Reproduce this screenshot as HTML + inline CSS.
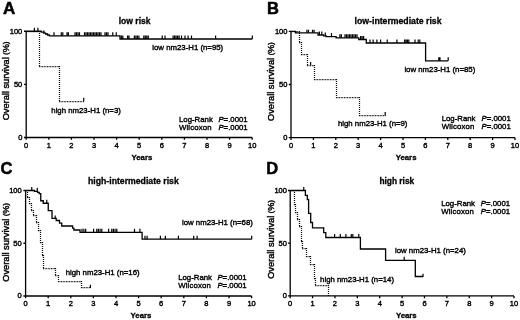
<!DOCTYPE html>
<html><head><meta charset="utf-8"><title>Overall survival by nm23-H1 expression</title>
<style>
html,body{margin:0;padding:0;background:#fff;}
body{width:520px;height:320px;overflow:hidden;}
svg{display:block;}
text{font-family:"Liberation Sans", sans-serif;fill:#000;stroke:#000;stroke-width:0.3;}
.ax{fill:none;stroke:#000;stroke-width:1.3;}
.so{fill:none;stroke:#000;stroke-width:1.3;}
.do{fill:none;stroke:#0a0a0a;stroke-width:1.25;stroke-dasharray:1 1;}
.dh{fill:none;stroke:#0a0a0a;stroke-width:1.25;stroke-dasharray:0.9 0.7;}
.tk{fill:none;stroke:#000;stroke-width:1.2;}
.tl{font-size:7.5px;stroke-width:0.4;}
.pl{font-size:16.5px;font-weight:bold;stroke-width:0.5;}
.ti{font-size:8.7px;font-weight:bold;stroke-width:0.3;}
.yr{font-size:7.8px;font-weight:bold;stroke-width:0.3;}
.os{font-size:8.4px;stroke-width:0.4;}
.pa{font-size:6.6px;}
.lb{font-size:7.8px;stroke-width:0.38;}
.lw{letter-spacing:0.13px;}
.it{font-style:italic;}
</style></head><body>
<svg width="520" height="320" viewBox="0 0 520 320">
<rect width="520" height="320" fill="#fff"/>
<g style="filter:blur(0.22px)">
<!-- Panel A -->
<path d="M26.2,30.75V137.5H252.2M24,137.5H26.2M24,84.38H26.2M24,31.25H26.2M26.2,137.5v2.3M48.8,137.5v2.3M71.4,137.5v2.3M94,137.5v2.3M116.6,137.5v2.3M139.2,137.5v2.3M161.8,137.5v2.3M184.4,137.5v2.3M207,137.5v2.3M229.6,137.5v2.3M252.2,137.5v2.3" class="ax"/><text x="22.3" y="140.3" class="tl" text-anchor="end">0</text><text x="22.3" y="87.17" class="tl" text-anchor="end">50</text><text x="22.3" y="34.05" class="tl" text-anchor="end">100</text><text x="26.2" y="148.2" class="tl" text-anchor="middle">0</text><text x="48.8" y="148.2" class="tl" text-anchor="middle">1</text><text x="71.4" y="148.2" class="tl" text-anchor="middle">2</text><text x="94" y="148.2" class="tl" text-anchor="middle">3</text><text x="116.6" y="148.2" class="tl" text-anchor="middle">4</text><text x="139.2" y="148.2" class="tl" text-anchor="middle">5</text><text x="161.8" y="148.2" class="tl" text-anchor="middle">6</text><text x="184.4" y="148.2" class="tl" text-anchor="middle">7</text><text x="207" y="148.2" class="tl" text-anchor="middle">8</text><text x="229.6" y="148.2" class="tl" text-anchor="middle">9</text><text x="252.2" y="148.2" class="tl" text-anchor="middle">10</text>
<text x="3" y="13.7" class="pl" style="font-size:17px">A</text>
<text x="118.7" y="23.8" class="ti" style="font-size:8.55px">low risk</text>
<text x="141.9" y="160" class="yr" text-anchor="middle">Years</text>
<text transform="translate(8.7,81) rotate(-90) scale(1.1,1)" class="os" text-anchor="middle">Overall survival <tspan class="pa" dy="-0.7">(</tspan><tspan dy="0.7">%</tspan><tspan class="pa" dy="-0.7">)</tspan></text>
<path d="M26.2,31.25H41.25V32.1H43.75V33.1H45.6V34H47.5V35H49.4V35.8H120V39H252.3" class="so"/>
<path d="M34.4,31.25v-3.5M37.9,31.25v-3.5M43.9,33.1v-2.6" class="tk"/>
<path d="M54,35.8v-3.5M61.3,35.8v-3.5M62.8,35.8v-3.5M67,35.8v-3.5M68.4,35.8v-3.5M75,35.8v-3.5M76.5,35.8v-3.5M78,35.8v-3.5M79.5,35.8v-3.5M84.5,35.8v-3.5M86,35.8v-3.5M87.5,35.8v-3.5M89,35.8v-3.5M90.5,35.8v-3.5M92,35.8v-3.5M93.5,35.8v-3.5M95,35.8v-3.5M96.5,35.8v-3.5M98,35.8v-3.5M99.5,35.8v-3.5M101,35.8v-3.5M105,35.8v-3.5M106.5,35.8v-3.5M108,35.8v-3.5M112.75,35.8v-3.5M116.25,35.8v-3.5" class="tk"/>
<path d="M121.4,39v-3.5M122.8,39v-3.5M127.6,39v-3.5M129,39v-3.5M134.4,39v-3.5M135.9,39v-3.5M137.4,39v-3.5M138.9,39v-3.5M143.8,39v-3.5M145.3,39v-3.5M146.8,39v-3.5M148.3,39v-3.5M162.25,39v-3.5M165,39v-3.5M173.1,39v-3.5M174.6,39v-3.5M176.1,39v-3.5M177.6,39v-3.5M179.1,39v-3.5M181.5,39v-3.5M185,39v-3.5M188.1,39v-3.5M191.5,39v-3.5M215.6,39v-3.5M252.3,39v-3.5" class="tk"/>
<path d="M39.5,31V67M59.5,66V102" class="do"/><path d="M26,31.5H40M39,66.5H60M59,101.5H84" class="dh"/>
<path d="M83.75,101.3v-3.5" class="tk"/>
<text x="152.3" y="50" class="lb">low nm23-H1 (n=95)</text>
<text x="51.3" y="112.8" class="lb">high nm23-H1 (n=3)</text>
<text x="179" y="121.5" class="lb">Log-Rank</text><text x="218.4" y="121.5" class="lb"><tspan class="it">P</tspan>=.0001</text>
<text x="179" y="129.6" class="lb lw">Wilcoxon</text><text x="218.4" y="129.6" class="lb"><tspan class="it">P</tspan>=.0001</text>
<!-- Panel B -->
<path d="M291,30.9V137.6H515M288.8,137.6H291M288.8,84.5H291M288.8,31.4H291M291,137.6v2.3M313.4,137.6v2.3M335.8,137.6v2.3M358.2,137.6v2.3M380.6,137.6v2.3M403,137.6v2.3M425.4,137.6v2.3M447.8,137.6v2.3M470.2,137.6v2.3M492.6,137.6v2.3M515,137.6v2.3" class="ax"/><text x="287.4" y="140.4" class="tl" text-anchor="end">0</text><text x="287.4" y="87.3" class="tl" text-anchor="end">50</text><text x="287.4" y="34.2" class="tl" text-anchor="end">100</text><text x="291" y="148.3" class="tl" text-anchor="middle">0</text><text x="313.4" y="148.3" class="tl" text-anchor="middle">1</text><text x="335.8" y="148.3" class="tl" text-anchor="middle">2</text><text x="358.2" y="148.3" class="tl" text-anchor="middle">3</text><text x="380.6" y="148.3" class="tl" text-anchor="middle">4</text><text x="403" y="148.3" class="tl" text-anchor="middle">5</text><text x="425.4" y="148.3" class="tl" text-anchor="middle">6</text><text x="447.8" y="148.3" class="tl" text-anchor="middle">7</text><text x="470.2" y="148.3" class="tl" text-anchor="middle">8</text><text x="492.6" y="148.3" class="tl" text-anchor="middle">9</text><text x="515" y="148.3" class="tl" text-anchor="middle">10</text>
<text x="267" y="13.7" class="pl">B</text>
<text x="354.6" y="23.9" class="ti">low-intermediate risk</text>
<text x="406.1" y="160.3" class="yr" text-anchor="middle">Years</text>
<text transform="translate(274,81.6) rotate(-90) scale(1.1,1)" class="os" text-anchor="middle">Overall survival <tspan class="pa" dy="-0.7">(</tspan><tspan dy="0.7">%</tspan><tspan class="pa" dy="-0.7">)</tspan></text>
<path d="M291,31.4H295.5V32.8H318V35H323.6V35.9H326.1V36.6H336.1V37.8H358.75V39.5H366.25V43H425.6V60.8H448.2" class="so"/>
<path d="M306.9,32.8v-3M308.5,32.8v-3M312.5,32.8v-3M314.1,32.8v-3" class="tk"/>
<path d="M319.4,35v-3.5M321.8,35v-3.5" class="tk"/>
<path d="M325.3,35.9v-3.5" class="tk"/>
<path d="M331.5,36.6v-3.5" class="tk"/>
<path d="M339.9,37.8v-3.5M341.4,37.8v-3.5M345,37.8v-3.5M346.5,37.8v-3.5M348,37.8v-3.5M349.5,37.8v-3.5M351,37.8v-3.5M352.5,37.8v-3.5M354,37.8v-3.5M355.5,37.8v-3.5M357,37.8v-3.5" class="tk"/>
<path d="M360.6,39.5v-3.5M362.1,39.5v-3.5M363.6,39.5v-3.5" class="tk"/>
<path d="M370,43v-3.5M373.1,43v-3.5M376.9,43v-3.5M380.6,43v-3.5M387.25,43v-3.5M396.9,43v-3.5M404.6,43v-3.5M406,43v-3.5M407.4,43v-3.5M408.8,43v-3.5M415,43v-3.5M418.2,43v-3.5M419.8,43v-3.5" class="tk"/>
<path d="M438.8,60.8v-3.5M440,60.8v-3.5M448.2,60.8v-3.5" class="tk"/>
<path d="M299.5,31V43M301.5,42V55M307.5,54V66M314.5,65V80M336.5,79V98M359.5,97V116" class="do"/><path d="M291,31.5H300M299,42.5H302M301,54.5H308M307,65.5H315M314,79.5H337M336,97.5H360M359,115.5H386" class="dh"/>
<path d="M310.6,65v-3" class="tk"/>
<path d="M385.2,115.6v-3.5" class="tk"/>
<text x="404.4" y="71.8" class="lb">low nm23-H1 (n=85)</text>
<text x="337.9" y="126.2" class="lb">high nm23-H1 (n=9)</text>
<text x="441.7" y="121.4" class="lb">Log-Rank</text><text x="481.5" y="121.4" class="lb"><tspan class="it">P</tspan>=.0001</text>
<text x="441.7" y="129.3" class="lb lw">Wilcoxon</text><text x="481.5" y="129.3" class="lb"><tspan class="it">P</tspan>=.0001</text>
<!-- Panel C -->
<path d="M25.6,190V296H251.6M23.4,296H25.6M23.4,243.25H25.6M23.4,190.5H25.6M25.6,296v2.3M48.2,296v2.3M70.8,296v2.3M93.4,296v2.3M116,296v2.3M138.6,296v2.3M161.2,296v2.3M183.8,296v2.3M206.4,296v2.3M229,296v2.3M251.6,296v2.3" class="ax"/><text x="21.7" y="298.3" class="tl" text-anchor="end">0</text><text x="21.7" y="245.55" class="tl" text-anchor="end">50</text><text x="21.7" y="192.8" class="tl" text-anchor="end">100</text><text x="25.6" y="306.4" class="tl" text-anchor="middle">0</text><text x="48.2" y="306.4" class="tl" text-anchor="middle">1</text><text x="70.8" y="306.4" class="tl" text-anchor="middle">2</text><text x="93.4" y="306.4" class="tl" text-anchor="middle">3</text><text x="116" y="306.4" class="tl" text-anchor="middle">4</text><text x="138.6" y="306.4" class="tl" text-anchor="middle">5</text><text x="161.2" y="306.4" class="tl" text-anchor="middle">6</text><text x="183.8" y="306.4" class="tl" text-anchor="middle">7</text><text x="206.4" y="306.4" class="tl" text-anchor="middle">8</text><text x="229" y="306.4" class="tl" text-anchor="middle">9</text><text x="251.6" y="306.4" class="tl" text-anchor="middle">10</text>
<text x="0.6" y="173.9" class="pl">C</text>
<text x="88" y="183.6" class="ti">high-intermediate risk</text>
<text x="141" y="317.7" class="yr" text-anchor="middle">Years</text>
<text transform="translate(8.7,242.4) rotate(-90) scale(1.1,1)" class="os" text-anchor="middle">Overall survival <tspan class="pa" dy="-0.7">(</tspan><tspan dy="0.7">%</tspan><tspan class="pa" dy="-0.7">)</tspan></text>
<path d="M25.6,190.5H34.5V191.3H37.6V192.4H39.2V193.7H40.75V200.75H43.25V203.25H48.25V210.6H52V218.4H56.2V220.5H59.5V223.1H61.75V226H72.6V228.1H73.9V230H80V232.3H142.1V239.2H251.7" class="so"/>
<path d="M31.75,190.5v-3.5M37.25,191.3v-3.5M46.75,203.25v-3.5M55.2,218.4v-3" class="tk"/>
<path d="M82,232.3v-3.5M83.9,232.3v-3.5M85.7,232.3v-3.5M93.6,232.3v-3.5M96.75,232.3v-3.5M98.4,232.3v-3.5M100.1,232.3v-3.5M101.8,232.3v-3.5M108.6,232.3v-3.5M111.75,232.3v-3.5M113.4,232.3v-3.5M115.1,232.3v-3.5M116.8,232.3v-3.5M134.5,232.3v-3.5M139.9,232.3v-3.5" class="tk"/>
<path d="M145,239.2v-3.5M147.1,239.2v-3.5M160.4,239.2v-3.5M165.4,239.2v-3.5M178.4,239.2v-3.5M193.7,239.2v-3.5M197.1,239.2v-3.5M251.7,239.2v-3.5" class="tk"/>
<path d="M27.5,190V198M29.5,197V204M31.5,203V211M33.5,210V216M36.5,215V223M38.5,222V231M40.5,230V243M42.5,242V256M43.5,255V269M55.5,268V276M58.5,275V282M81.5,281V288" class="do"/><path d="M25,190.5H28M27,197.5H30M29,203.5H32M31,210.5H34M33,215.5H37M36,222.5H39M38,230.5H41M40,242.5H43M42,255.5H44M43,268.5H56M55,275.5H59M58,281.5H82M81,287.5H91" class="dh"/>
<path d="M90.4,288v-3.2" class="tk"/>
<text x="182" y="225.3" class="lb">low nm23-H1 (n=68)</text>
<text x="65.7" y="274.8" class="lb">high nm23-H1 (n=16)</text>
<text x="178.2" y="279.5" class="lb">Log-Rank</text><text x="217.4" y="279.5" class="lb"><tspan class="it">P</tspan>=.0001</text>
<text x="178.2" y="287.5" class="lb lw">Wilcoxon</text><text x="217.4" y="287.5" class="lb"><tspan class="it">P</tspan>=.0001</text>
<!-- Panel D -->
<path d="M290.2,190V295.9H514M288,295.9H290.2M288,243.2H290.2M288,190.5H290.2M290.2,295.9v2.3M312.58,295.9v2.3M334.96,295.9v2.3M357.34,295.9v2.3M379.72,295.9v2.3M402.1,295.9v2.3M424.48,295.9v2.3M446.86,295.9v2.3M469.24,295.9v2.3M491.62,295.9v2.3M514,295.9v2.3" class="ax"/><text x="286.9" y="298.2" class="tl" text-anchor="end">0</text><text x="286.9" y="245.5" class="tl" text-anchor="end">50</text><text x="286.9" y="192.8" class="tl" text-anchor="end">100</text><text x="290.2" y="306.1" class="tl" text-anchor="middle">0</text><text x="312.58" y="306.1" class="tl" text-anchor="middle">1</text><text x="334.96" y="306.1" class="tl" text-anchor="middle">2</text><text x="357.34" y="306.1" class="tl" text-anchor="middle">3</text><text x="379.72" y="306.1" class="tl" text-anchor="middle">4</text><text x="402.1" y="306.1" class="tl" text-anchor="middle">5</text><text x="424.48" y="306.1" class="tl" text-anchor="middle">6</text><text x="446.86" y="306.1" class="tl" text-anchor="middle">7</text><text x="469.24" y="306.1" class="tl" text-anchor="middle">8</text><text x="491.62" y="306.1" class="tl" text-anchor="middle">9</text><text x="514" y="306.1" class="tl" text-anchor="middle">10</text>
<text x="266.3" y="174.3" class="pl">D</text>
<text x="379.4" y="183.6" class="ti" style="font-size:8.35px">high risk</text>
<text x="406.3" y="317.8" class="yr" text-anchor="middle">Years</text>
<text transform="translate(274,239.5) rotate(-90) scale(1.1,1)" class="os" text-anchor="middle">Overall survival <tspan class="pa" dy="-0.7">(</tspan><tspan dy="0.7">%</tspan><tspan class="pa" dy="-0.7">)</tspan></text>
<path d="M290.2,190.5H305.4V195.3H307.3V199.6H308.6V213.4H310.7V222.5H312.5V227.8H323.7V232.7H325.8V237.5H360.4V249H385.6V260.3H415.3V276.5H423" class="so"/>
<path d="M303.75,190.5v-3.5" class="tk"/>
<path d="M334.6,237.5v-3.5M340.3,237.5v-3.5M345.9,237.5v-3.5M351.25,237.5v-3.5M352.8,237.5v-3.5M358.75,237.5v-3.5" class="tk"/>
<path d="M404.2,260.3v-3.5" class="tk"/>
<path d="M423,277v-3.3" class="tk"/>
<path d="M294.5,190V205M295.5,204V213M297.5,212V220M299.5,219V227M301.5,226V242M302.5,241V249M306.5,248V257M310.5,256V265M314.5,264V279M315.5,278V286M328.5,285V296" class="do"/><path d="M290,190.5H295M294,204.5H296M295,212.5H298M297,219.5H300M299,226.5H302M301,241.5H303M302,248.5H307M306,256.5H311M310,264.5H315M314,278.5H316M315,285.5H329" class="dh"/>
<text x="395" y="252.6" class="lb">low nm23-H1 (n=24)</text>
<text x="320.1" y="281.6" class="lb">high nm23-H1 (n=14)</text>
<text x="441.2" y="205.8" class="lb">Log-Rank</text><text x="480.8" y="205.8" class="lb"><tspan class="it">P</tspan>=.0001</text>
<text x="441.2" y="213.9" class="lb lw">Wilcoxon</text><text x="480.8" y="213.9" class="lb"><tspan class="it">P</tspan>=.0001</text>
</g>
</svg>
</body></html>
